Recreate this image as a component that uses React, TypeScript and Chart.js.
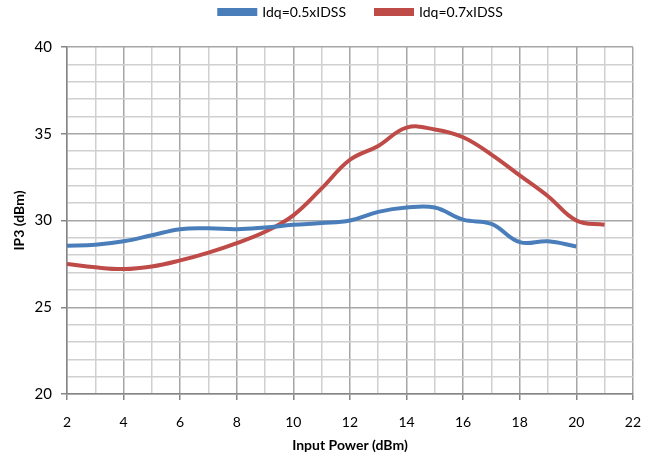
import React, { useEffect, useRef } from "react";
import { Chart, registerables } from "chart.js";

Chart.register(...registerables);

const inputPower05 = [2, 3, 4, 5, 6, 7, 8, 9, 10, 11, 12, 13, 14, 15, 16, 17, 18, 19, 20];
const ip3Idq05 = [28.55, 28.6, 28.8, 29.15, 29.5, 29.55, 29.5, 29.6, 29.75, 29.85, 30.0, 30.5, 30.75, 30.75, 30.05, 29.8, 28.75, 28.8, 28.5];
const inputPower07 = [2, 3, 4, 5, 6, 7, 8, 9, 10, 11, 12, 13, 14, 15, 16, 17, 18, 19, 20, 21];
const ip3Idq07 = [27.5, 27.3, 27.2, 27.35, 27.7, 28.15, 28.7, 29.35, 30.3, 31.85, 33.5, 34.3, 35.35, 35.25, 34.8, 33.8, 32.6, 31.4, 30.0, 29.75];
const seriesLabels = ["Idq=0.5xIDSS", "Idq=0.7xIDSS"];
const xTitle = "Input Power (dBm)";
const yTitle = "IP3 (dBm)";

const FONT = "Lato, 'Open Sans', 'Liberation Sans', sans-serif";
const LEGEND_PAD = 30;
const LEGEND_FONT = 14;

const legendPlacer = {
  id: "legendPlacer",
  beforeLayout(chart: any) {
    const lg = chart.legend;
    if (lg && !lg._wrappedFit) {
      const f = lg.fit;
      lg.fit = function () {
        f.call(this);
        this.height = 47;
      };
      lg._wrappedFit = true;
    }
  },
  afterLayout(chart: any) {
    const lg = chart.legend;
    if (!lg) return;
    const dx = 361 - (lg.left + lg.right) / 2;
    const targetTop = 12 - LEGEND_PAD - LEGEND_FONT / 2;
    const dy = targetTop - lg.top;
    lg.left += dx;
    lg.right += dx;
    lg.top += dy;
    lg.bottom += dy;
  },
};

export default function App() {
  const ref = useRef<HTMLCanvasElement | null>(null);
  useEffect(() => {
    document.body.style.margin = "0";
    const ctx = ref.current!.getContext("2d")!;
    const chart = new Chart(ctx, {
      type: "line",
      data: {
        datasets: [
          {
            label: seriesLabels[0],
            data: inputPower05.map((x, i) => ({ x, y: ip3Idq05[i] })),
            borderColor: "#4A7EBB",
            backgroundColor: "#4A7EBB",
            borderWidth: 4,
            pointRadius: 0,
            tension: 0.4,
          },
          {
            label: seriesLabels[1],
            data: inputPower07.map((x, i) => ({ x, y: ip3Idq07[i] })),
            borderColor: "#BE4B48",
            backgroundColor: "#BE4B48",
            borderWidth: 4,
            pointRadius: 0,
            tension: 0.4,
          },
        ],
      },
      options: {
        animation: false,
        responsive: false,
        layout: { padding: { top: 0, right: 22, left: 0, bottom: 0 } },
        plugins: {
          legend: {
            position: "top",
            labels: {
              boxWidth: 36,
              boxHeight: 4,
              padding: LEGEND_PAD,
              color: "#000",
              font: { family: FONT, size: LEGEND_FONT },
            },
          },
          tooltip: { enabled: false },
        },
        scales: {
          x: {
            type: "linear",
            min: 2,
            max: 22,
            afterFit: (s: any) => {
              s.height = 64;
            },
            ticks: {
              stepSize: 1,
              autoSkip: false,
              maxRotation: 0,
              color: "#000",
              font: { family: FONT, size: 14 },
              padding: 14,
              callback: (v: any) => (Number(v) % 2 === 0 ? String(v) : ""),
            },
            grid: {
              color: (c: any) => (c.tick && c.tick.value % 2 === 0 ? "#A6A6A6" : "#D0D0D0"),
              lineWidth: 1.5,
              tickLength: 6,
              tickColor: (c: any) => (c.tick && c.tick.value % 2 === 0 ? "#868686" : "rgba(0,0,0,0)"),
            },
            border: { color: "#868686", width: 1.5 },
            title: {
              display: true,
              text: xTitle,
              color: "#000",
              font: { family: FONT, size: 14, weight: "bold" },
              padding: { top: 2, bottom: 4 },
            },
          },
          y: {
            min: 20,
            max: 40,
            afterFit: (s: any) => {
              s.width = 67;
            },
            ticks: {
              stepSize: 1,
              autoSkip: false,
              color: "#000",
              font: { family: FONT, size: 15 },
              padding: 9,
              callback: (v: any) => (Number(v) % 5 === 0 ? String(v) : ""),
            },
            grid: {
              color: (c: any) => (c.tick && c.tick.value % 5 === 0 ? "#A6A6A6" : "#D0D0D0"),
              lineWidth: 1.5,
              tickLength: 6,
              tickColor: (c: any) => (c.tick && c.tick.value % 5 === 0 ? "#868686" : "rgba(0,0,0,0)"),
            },
            border: { color: "#868686", width: 1.5 },
            title: {
              display: true,
              text: yTitle,
              color: "#000",
              font: { family: FONT, size: 14, weight: "bold" },
              padding: { top: 11, bottom: 4 },
            },
          },
        },
      },
      plugins: [legendPlacer],
    });
    return () => chart.destroy();
  }, []);
  return <canvas ref={ref} width={655} height={458} style={{ display: "block" }} />;
}
